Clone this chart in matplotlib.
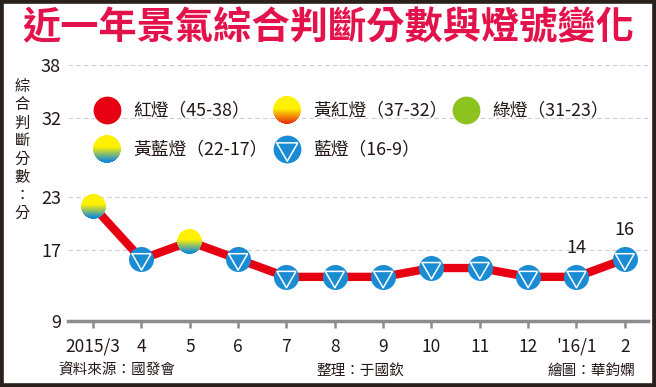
import numpy as np
import matplotlib
matplotlib.use("Agg")
import matplotlib.pyplot as plt
import matplotlib.colors as mcolors
from matplotlib.offsetbox import OffsetImage, AnnotationBbox
from matplotlib.patches import Rectangle

plt.rcParams['font.family'] = ['Noto Sans CJK TC', 'DejaVu Sans']

# data
months = ["2015/3", "4", "5", "6", "7", "8", "9", "10", "11", "12", "'16/1", "2"]
scores = [22, 16, 18, 16, 14, 14, 14, 15, 15, 14, 14, 16]
lights = ["yb", "b", "yb", "b", "b", "b", "b", "b", "b", "b", "b", "b"]
yticks = [9, 17, 23, 32, 38]
labelled = [10, 11]

legend_labels = ["紅燈（45-38）", "黃紅燈（37-32）", "綠燈（31-23）",
                 "黃藍燈（22-17）", "藍燈（16-9）"]
legend_kinds = ["r", "yr", "g", "yb", "b"]

RED = '#e60012'
BLUE = '#1a8cd4'
GREEN = '#8cc31e'
YELLOW = '#fff100'
ORANGE_RED = '#e8380d'
TITLE = '#e3124b'
TXT = '#231815'
GRAY = '#8c8c8c'


def grad_disc(top, bottom, start, end, n=120):
    yy, xx = np.mgrid[0:n, 0:n]
    r = np.hypot(xx - (n - 1) / 2, yy - (n - 1) / 2) / (n / 2)
    t = np.clip((yy / (n - 1) - start) / (end - start), 0, 1)[..., None]
    c1 = np.array(mcolors.to_rgb(top))
    c2 = np.array(mcolors.to_rgb(bottom))
    rgb = c1 * (1 - t) + c2 * t
    alpha = np.clip((1 - r) * n / 2, 0, 1)
    return np.dstack([rgb, alpha])


tri = [(0.866, 0.5), (-0.866, 0.5), (0.0, -1.0), (0.866, 0.5)]


def put_marker(ax, kind, x, y, size, coords='data'):
    # size = diameter in points
    if kind in ('yb', 'yr'):
        if kind == 'yb':
            img = grad_disc(YELLOW, BLUE, 0.42, 0.92)
        else:
            img = grad_disc(YELLOW, ORANGE_RED, 0.45, 0.95)
        ab = AnnotationBbox(OffsetImage(img, zoom=size / img.shape[0]), (x, y),
                            xycoords=coords, frameon=False, pad=0, zorder=5,
                            annotation_clip=False)
        ax.add_artist(ab)
        return
    tr = ax.transData if coords == 'data' else ax.transAxes
    col = {'r': RED, 'g': GREEN, 'b': BLUE}[kind]
    ax.scatter([x], [y], s=size ** 2, c=col, zorder=5, transform=tr,
               clip_on=False, linewidths=0)
    if kind == 'b':
        ax.scatter([x], [y], s=(size * 0.88) ** 2, marker=tri, facecolors='none',
                   edgecolors='white', linewidths=1.1, zorder=6, transform=tr,
                   clip_on=False)


fig = plt.figure(figsize=(6.56, 3.87), dpi=100)
W, H = 656, 387
ax = fig.add_axes([68 / W, (H - 321) / H, 580 / W, 256 / H])

x = np.arange(len(months))
ax.plot(x, scores, color=RED, lw=6, zorder=3, solid_capstyle='round')
for xi, yi, k in zip(x, scores, lights):
    put_marker(ax, k, xi, yi, 18)

for i in labelled:
    ax.annotate(str(scores[i]), (x[i], scores[i]), xytext=(0, 21),
                textcoords='offset points', ha='center', va='center',
                fontsize=13, color=TXT)

ax.set_xlim(-0.52, len(months) - 0.52)
ax.set_ylim(9, 38)
ax.set_xticks(x)
ax.set_xticklabels(months)
ax.set_yticks(yticks)
for yv in yticks[1:]:
    ax.axhline(yv, color='#cfcfcf', lw=0.8, dashes=(4, 3), zorder=1)

for s in ['top', 'right', 'left']:
    ax.spines[s].set_visible(False)
ax.spines['bottom'].set_color(GRAY)
ax.spines['bottom'].set_linewidth(2.5)
ax.tick_params(axis='x', length=5, width=1.8, color=GRAY, pad=7,
               labelsize=12.5, labelcolor=TXT)
ax.tick_params(axis='y', length=0, pad=5, labelsize=13, labelcolor=TXT)

# legend, laid out as a 3-column grid in axes fraction
col_x = [0.067, 0.378, 0.686]
row_y = [0.824, 0.672]
for i, (lab, k) in enumerate(zip(legend_labels, legend_kinds)):
    cx, ry = col_x[i % 3], row_y[i // 3]
    put_marker(ax, k, cx, ry, 20, coords='axes fraction')
    ax.text(cx + 0.045, ry, lab, transform=ax.transAxes, ha='left',
            va='center', fontsize=12.8, color=TXT)

fig.text(328 / W, 1 - 28 / H, "近一年景氣綜合判斷分數與燈號變化", ha='center',
         va='center', fontsize=27.5, fontweight='heavy', color=TITLE)
fig.text(22 / W, 1 - 150 / H, "\n".join("綜合判斷分數：分"), ha='center',
         va='center', fontsize=11, linespacing=1.08, color=TXT)

fig.text(58 / W, 1 - 371 / H, "資料來源：國發會", ha='left', va='center',
         fontsize=10.5, color=TXT)
fig.text(316 / W, 1 - 371 / H, "整理：于國欽", ha='left', va='center',
         fontsize=10.5, color=TXT)
fig.text(635 / W, 1 - 371 / H, "繪圖：華鈞嫻", ha='right', va='center',
         fontsize=10.5, color=TXT)

fig.patches.append(Rectangle((0, 0), 1, 1, transform=fig.transFigure,
                             fill=False, lw=5.5, ec='#2a201c'))

fig.savefig("out.png", dpi=100)
